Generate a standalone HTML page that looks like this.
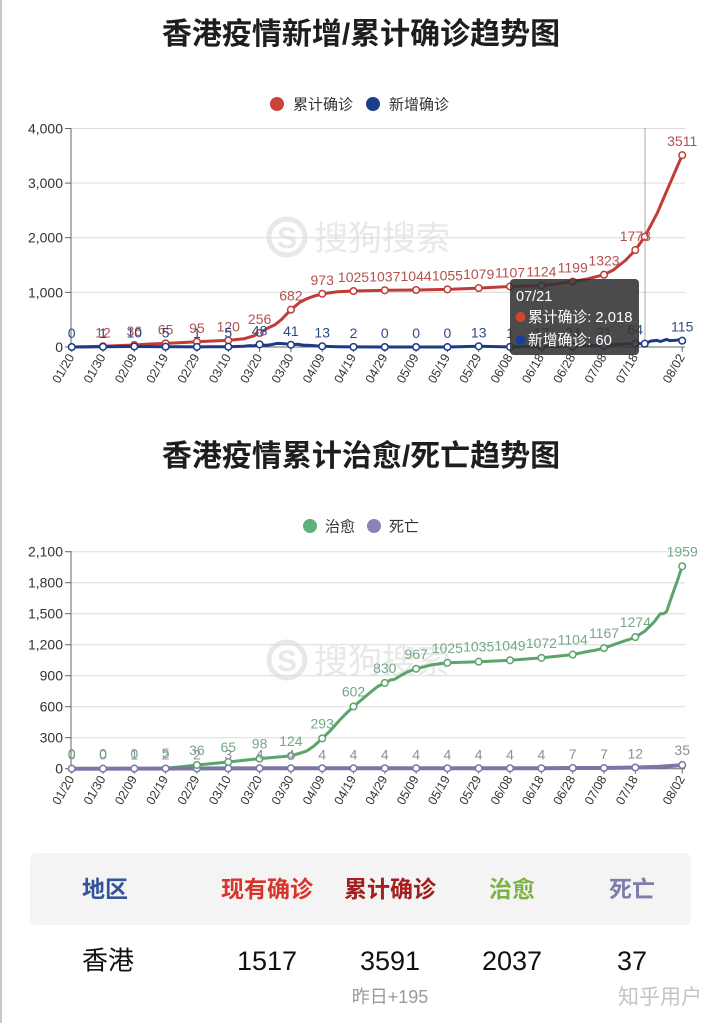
<!DOCTYPE html>
<html><head><meta charset="utf-8"><style>
html,body{margin:0;padding:0;background:#fff;}
svg{display:block;font-family:"Liberation Sans","Noto Sans CJK SC",sans-serif;}
</style></head><body>
<svg width="720" height="1023" viewBox="0 0 720 1023" xmlns="http://www.w3.org/2000/svg">
<rect x="0" y="0" width="720" height="1023" fill="#fff"/>
<rect x="0" y="0" width="2" height="1023" fill="#c8c8c8"/>

<!-- ===== Chart 1 ===== -->
<text x="361" y="44" text-anchor="middle" font-size="30" font-weight="bold" fill="#1e1e1e">香港疫情新增/累计确诊趋势图</text>
<circle cx="277" cy="104" r="7" fill="#c9433b"/>
<text x="293" y="109.5" font-size="15" fill="#333">累计确诊</text>
<circle cx="373" cy="104" r="7" fill="#1d3c8c"/>
<text x="389" y="109.5" font-size="15" fill="#333">新增确诊</text>

<g>
<circle cx="287" cy="237" r="18" fill="none" stroke="#e8e8e8" stroke-width="5"/>
<text x="287" y="248" text-anchor="middle" font-size="30" font-weight="bold" fill="#e8e8e8">S</text>
<text x="314" y="250" font-size="34" fill="#e8e8e8">搜狗搜索</text>
</g>

<g stroke="#dcdcdc" stroke-width="1">
<line x1="71" y1="128.5" x2="685" y2="128.5"/>
<line x1="71" y1="183.1" x2="685" y2="183.1"/>
<line x1="71" y1="237.7" x2="685" y2="237.7"/>
<line x1="71" y1="292.4" x2="685" y2="292.4"/>
</g>
<g stroke="#666" stroke-width="1">
<line x1="71" y1="128" x2="71" y2="347"/>
<line x1="65" y1="128.5" x2="71" y2="128.5"/>
<line x1="65" y1="183.1" x2="71" y2="183.1"/>
<line x1="65" y1="237.7" x2="71" y2="237.7"/>
<line x1="65" y1="292.4" x2="71" y2="292.4"/>
<line x1="65" y1="347" x2="71" y2="347"/>
<line x1="71" y1="347" x2="685" y2="347"/>
</g>
<g font-size="14" fill="#333" text-anchor="end">
<text x="63" y="133.5">4,000</text>
<text x="63" y="188.1">3,000</text>
<text x="63" y="242.7">2,000</text>
<text x="63" y="297.4">1,000</text>
<text x="63" y="352">0</text>
</g>
<g stroke="#666" stroke-width="1">
<line x1="71.7" y1="347" x2="71.7" y2="352"/><line x1="103" y1="347" x2="103" y2="352"/><line x1="134.3" y1="347" x2="134.3" y2="352"/><line x1="165.6" y1="347" x2="165.6" y2="352"/><line x1="196.9" y1="347" x2="196.9" y2="352"/><line x1="228.3" y1="347" x2="228.3" y2="352"/><line x1="259.6" y1="347" x2="259.6" y2="352"/><line x1="290.9" y1="347" x2="290.9" y2="352"/><line x1="322.2" y1="347" x2="322.2" y2="352"/><line x1="353.5" y1="347" x2="353.5" y2="352"/><line x1="384.8" y1="347" x2="384.8" y2="352"/><line x1="416.1" y1="347" x2="416.1" y2="352"/><line x1="447.4" y1="347" x2="447.4" y2="352"/><line x1="478.7" y1="347" x2="478.7" y2="352"/><line x1="510" y1="347" x2="510" y2="352"/><line x1="541.4" y1="347" x2="541.4" y2="352"/><line x1="572.7" y1="347" x2="572.7" y2="352"/><line x1="604" y1="347" x2="604" y2="352"/><line x1="635.3" y1="347" x2="635.3" y2="352"/><line x1="682.2" y1="347" x2="682.2" y2="352"/>
</g>
<g font-size="12.5" fill="#333" text-anchor="end">
<text transform="translate(74.7,357) rotate(-60)">01/20</text>
<text transform="translate(106,357) rotate(-60)">01/30</text>
<text transform="translate(137.3,357) rotate(-60)">02/09</text>
<text transform="translate(168.6,357) rotate(-60)">02/19</text>
<text transform="translate(199.9,357) rotate(-60)">02/29</text>
<text transform="translate(231.3,357) rotate(-60)">03/10</text>
<text transform="translate(262.6,357) rotate(-60)">03/20</text>
<text transform="translate(293.9,357) rotate(-60)">03/30</text>
<text transform="translate(325.2,357) rotate(-60)">04/09</text>
<text transform="translate(356.5,357) rotate(-60)">04/19</text>
<text transform="translate(387.8,357) rotate(-60)">04/29</text>
<text transform="translate(419.1,357) rotate(-60)">05/09</text>
<text transform="translate(450.4,357) rotate(-60)">05/19</text>
<text transform="translate(481.7,357) rotate(-60)">05/29</text>
<text transform="translate(513,357) rotate(-60)">06/08</text>
<text transform="translate(544.4,357) rotate(-60)">06/18</text>
<text transform="translate(575.7,357) rotate(-60)">06/28</text>
<text transform="translate(607,357) rotate(-60)">07/08</text>
<text transform="translate(638.3,357) rotate(-60)">07/18</text>
<text transform="translate(685.2,357) rotate(-60)">08/02</text>
</g>

<line x1="645" y1="128" x2="645" y2="347" stroke="#aaa" stroke-width="1"/>

<polyline fill="none" stroke="#c23b36" stroke-width="3" stroke-linejoin="round" stroke-linecap="round" points="71.7,347 87.4,346.7 103,346.3 118.7,345.6 134.3,345 150,344 165.6,343.4 181.3,342.6 196.9,341.8 212.6,341 228.3,340.4 243.9,338.8 253.4,336 259.6,333 269,327.5 275.2,324.6 281.5,319.5 290.9,309.7 300.3,302 306.5,298.9 312.8,296.5 322.2,293.8 337.8,291.8 353.5,291 384.8,290.3 416.1,290 447.4,289.4 478.7,288.1 510,286.5 541.4,285.6 557,283.8 572.7,281.5 588.3,278.7 604,274.7 613.4,270 619.6,265 625.9,260 635.3,250.1 644.7,236.8 657.2,213.2 669.7,184 682.2,155.2"/>
<polyline fill="none" stroke="#1c3a86" stroke-width="3" stroke-linejoin="round" stroke-linecap="round" points="71.7,347 87.4,346.9 103,346.8 118.7,346.6 134.3,346.5 150,346.6 165.6,346.7 181.3,346.8 196.9,346.9 212.6,346.7 228.3,346.7 243.9,346.3 250.2,345.6 253.4,345.9 259.6,344.4 265.9,345.4 272.1,344.5 275.2,343.8 278.4,343.4 284.6,343.7 290.9,344.8 297.2,344.3 303.4,345.1 309.7,345.4 315.9,345.9 322.2,346.3 337.8,346.7 353.5,346.9 384.8,347 416.1,347 447.4,347 478.7,346.3 510,346.9 541.4,346.5 572.7,346.4 588.3,345.6 604,345.9 610.3,345 619.6,344.3 629,343.8 635.3,343.5 644.7,343.7 651,341 657.2,340.4 660.3,341.5 666.6,339.4 669.7,340.6 676,340.2 679,339.8 682.2,340.7"/>
<g fill="#fff" stroke="#c23b36" stroke-width="1.5">
<circle cx="103" cy="346.3" r="3.3"/><circle cx="134.3" cy="345" r="3.3"/><circle cx="165.6" cy="343.4" r="3.3"/><circle cx="196.9" cy="341.8" r="3.3"/><circle cx="228.3" cy="340.4" r="3.3"/><circle cx="259.6" cy="333" r="3.3"/><circle cx="290.9" cy="309.7" r="3.3"/><circle cx="322.2" cy="293.8" r="3.3"/><circle cx="353.5" cy="291" r="3.3"/><circle cx="384.8" cy="290.3" r="3.3"/><circle cx="416.1" cy="290" r="3.3"/><circle cx="447.4" cy="289.4" r="3.3"/><circle cx="478.7" cy="288.1" r="3.3"/><circle cx="510" cy="286.5" r="3.3"/><circle cx="541.4" cy="285.6" r="3.3"/><circle cx="572.7" cy="281.5" r="3.3"/><circle cx="604" cy="274.7" r="3.3"/><circle cx="635.3" cy="250.1" r="3.3"/><circle cx="644.7" cy="236.8" r="3.3"/><circle cx="682.2" cy="155.2" r="3.3"/>
</g>
<g fill="#fff" stroke="#1c3a86" stroke-width="1.5">
<circle cx="71.7" cy="347" r="3.3"/><circle cx="103" cy="346.8" r="3.3"/><circle cx="134.3" cy="346.5" r="3.3"/><circle cx="165.6" cy="346.7" r="3.3"/><circle cx="196.9" cy="346.9" r="3.3"/><circle cx="228.3" cy="346.7" r="3.3"/><circle cx="259.6" cy="344.4" r="3.3"/><circle cx="290.9" cy="344.8" r="3.3"/><circle cx="322.2" cy="346.3" r="3.3"/><circle cx="353.5" cy="346.9" r="3.3"/><circle cx="384.8" cy="347" r="3.3"/><circle cx="416.1" cy="347" r="3.3"/><circle cx="447.4" cy="347" r="3.3"/><circle cx="478.7" cy="346.3" r="3.3"/><circle cx="510" cy="346.9" r="3.3"/><circle cx="541.4" cy="346.5" r="3.3"/><circle cx="572.7" cy="346.4" r="3.3"/><circle cx="604" cy="345.9" r="3.3"/><circle cx="635.3" cy="343.5" r="3.3"/><circle cx="644.7" cy="343.7" r="3.3"/><circle cx="682.2" cy="340.7" r="3.3"/>
</g>
<g font-size="14" fill="#b5504d" text-anchor="middle">
<text x="103" y="337.3">12</text><text x="134.3" y="336">36</text><text x="165.6" y="334.4">65</text><text x="196.9" y="332.8">95</text><text x="228.3" y="331.4">120</text><text x="259.6" y="324">256</text><text x="290.9" y="300.7">682</text><text x="322.2" y="284.8">973</text><text x="353.5" y="282">1025</text><text x="384.8" y="281.3">1037</text><text x="416.1" y="281">1044</text><text x="447.4" y="280.4">1055</text><text x="478.7" y="279.1">1079</text><text x="510" y="277.5">1107</text><text x="541.4" y="276.6">1124</text><text x="572.7" y="272.5">1199</text><text x="604" y="265.7">1323</text><text x="635.3" y="241.1">1773</text><text x="682.2" y="146.2">3511</text>
</g>
<g font-size="14" fill="#2d4a86" text-anchor="middle">
<text x="71.7" y="338">0</text><text x="103" y="337.8">1</text><text x="134.3" y="337.5">10</text><text x="165.6" y="337.7">5</text><text x="196.9" y="337.9">1</text><text x="228.3" y="337.7">5</text><text x="259.6" y="335.4">48</text><text x="290.9" y="335.8">41</text><text x="322.2" y="337.3">13</text><text x="353.5" y="337.9">2</text><text x="384.8" y="338">0</text><text x="416.1" y="338">0</text><text x="447.4" y="338">0</text><text x="478.7" y="337.3">13</text><text x="510" y="337.9">1</text><text x="541.4" y="337.5">17</text><text x="572.7" y="337.4">24</text><text x="604" y="336.9">21</text><text x="635.3" y="334.5">64</text><text x="682.2" y="331.7">115</text>
</g>

<rect x="510" y="279" width="129" height="76" rx="4" fill="rgba(50,50,50,0.88)"/>
<text x="516" y="301" font-size="14.5" fill="#fff">07/21</text>
<circle cx="520.5" cy="317" r="5" fill="#d2452f"/>
<text x="528" y="322" font-size="14.8" fill="#fff">累计确诊: 2,018</text>
<circle cx="520.5" cy="340" r="5" fill="#1b3d99"/>
<text x="528" y="345" font-size="14.8" fill="#fff">新增确诊: 60</text>

<!-- ===== Chart 2 ===== -->
<text x="361" y="466" text-anchor="middle" font-size="30" font-weight="bold" fill="#1e1e1e">香港疫情累计治愈/死亡趋势图</text>
<circle cx="310" cy="526" r="7" fill="#5db27a"/>
<text x="325" y="531.5" font-size="15" fill="#333">治愈</text>
<circle cx="374" cy="526" r="7" fill="#8984b8"/>
<text x="389" y="531.5" font-size="15" fill="#333">死亡</text>

<g>
<circle cx="287" cy="660" r="18" fill="none" stroke="#e8e8e8" stroke-width="5"/>
<text x="287" y="671" text-anchor="middle" font-size="30" font-weight="bold" fill="#e8e8e8">S</text>
<text x="314" y="673" font-size="34" fill="#e8e8e8">搜狗搜索</text>
</g>

<g stroke="#dcdcdc" stroke-width="1">
<line x1="71" y1="551.7" x2="685" y2="551.7"/>
<line x1="71" y1="582.7" x2="685" y2="582.7"/>
<line x1="71" y1="613.7" x2="685" y2="613.7"/>
<line x1="71" y1="644.7" x2="685" y2="644.7"/>
<line x1="71" y1="675.7" x2="685" y2="675.7"/>
<line x1="71" y1="706.7" x2="685" y2="706.7"/>
<line x1="71" y1="737.7" x2="685" y2="737.7"/>
</g>
<g stroke="#666" stroke-width="1">
<line x1="71" y1="551" x2="71" y2="768.7"/>
<line x1="65" y1="551.7" x2="71" y2="551.7"/>
<line x1="65" y1="582.7" x2="71" y2="582.7"/>
<line x1="65" y1="613.7" x2="71" y2="613.7"/>
<line x1="65" y1="644.7" x2="71" y2="644.7"/>
<line x1="65" y1="675.7" x2="71" y2="675.7"/>
<line x1="65" y1="706.7" x2="71" y2="706.7"/>
<line x1="65" y1="737.7" x2="71" y2="737.7"/>
<line x1="65" y1="768.7" x2="71" y2="768.7"/>
<line x1="71" y1="768.7" x2="685" y2="768.7"/>
</g>
<g font-size="14" fill="#333" text-anchor="end">
<text x="63" y="556.7">2,100</text>
<text x="63" y="587.7">1,800</text>
<text x="63" y="618.7">1,500</text>
<text x="63" y="649.7">1,200</text>
<text x="63" y="680.7">900</text>
<text x="63" y="711.7">600</text>
<text x="63" y="742.7">300</text>
<text x="63" y="773.7">0</text>
</g>
<g stroke="#666" stroke-width="1">
<line x1="71.7" y1="768.7" x2="71.7" y2="773.7"/><line x1="103" y1="768.7" x2="103" y2="773.7"/><line x1="134.3" y1="768.7" x2="134.3" y2="773.7"/><line x1="165.6" y1="768.7" x2="165.6" y2="773.7"/><line x1="196.9" y1="768.7" x2="196.9" y2="773.7"/><line x1="228.3" y1="768.7" x2="228.3" y2="773.7"/><line x1="259.6" y1="768.7" x2="259.6" y2="773.7"/><line x1="290.9" y1="768.7" x2="290.9" y2="773.7"/><line x1="322.2" y1="768.7" x2="322.2" y2="773.7"/><line x1="353.5" y1="768.7" x2="353.5" y2="773.7"/><line x1="384.8" y1="768.7" x2="384.8" y2="773.7"/><line x1="416.1" y1="768.7" x2="416.1" y2="773.7"/><line x1="447.4" y1="768.7" x2="447.4" y2="773.7"/><line x1="478.7" y1="768.7" x2="478.7" y2="773.7"/><line x1="510" y1="768.7" x2="510" y2="773.7"/><line x1="541.4" y1="768.7" x2="541.4" y2="773.7"/><line x1="572.7" y1="768.7" x2="572.7" y2="773.7"/><line x1="604" y1="768.7" x2="604" y2="773.7"/><line x1="635.3" y1="768.7" x2="635.3" y2="773.7"/><line x1="682.2" y1="768.7" x2="682.2" y2="773.7"/>
</g>
<g font-size="12.5" fill="#333" text-anchor="end">
<text transform="translate(74.7,778.7) rotate(-60)">01/20</text>
<text transform="translate(106,778.7) rotate(-60)">01/30</text>
<text transform="translate(137.3,778.7) rotate(-60)">02/09</text>
<text transform="translate(168.6,778.7) rotate(-60)">02/19</text>
<text transform="translate(199.9,778.7) rotate(-60)">02/29</text>
<text transform="translate(231.3,778.7) rotate(-60)">03/10</text>
<text transform="translate(262.6,778.7) rotate(-60)">03/20</text>
<text transform="translate(293.9,778.7) rotate(-60)">03/30</text>
<text transform="translate(325.2,778.7) rotate(-60)">04/09</text>
<text transform="translate(356.5,778.7) rotate(-60)">04/19</text>
<text transform="translate(387.8,778.7) rotate(-60)">04/29</text>
<text transform="translate(419.1,778.7) rotate(-60)">05/09</text>
<text transform="translate(450.4,778.7) rotate(-60)">05/19</text>
<text transform="translate(481.7,778.7) rotate(-60)">05/29</text>
<text transform="translate(513,778.7) rotate(-60)">06/08</text>
<text transform="translate(544.4,778.7) rotate(-60)">06/18</text>
<text transform="translate(575.7,778.7) rotate(-60)">06/28</text>
<text transform="translate(607,778.7) rotate(-60)">07/08</text>
<text transform="translate(638.3,778.7) rotate(-60)">07/18</text>
<text transform="translate(685.2,778.7) rotate(-60)">08/02</text>
</g>

<polyline fill="none" stroke="#5ba56d" stroke-width="3" stroke-linejoin="round" stroke-linecap="round" points="71.7,768.7 103,768.7 134.3,768.7 165.6,768.2 181.3,766.8 196.9,765 212.6,763.5 228.3,762 243.9,760.3 259.6,758.6 275.2,757.3 290.9,755.9 299,753.5 306.5,751.1 314,746 322.2,738.4 330,731 337.8,722.2 345.6,714 353.5,706.5 361.3,700 369.2,693.3 377,687 384.8,682.9 391,679.8 394.2,679.5 400.5,675.7 408.3,671.5 416.1,668.8 431.8,664.8 447.4,662.8 478.7,661.7 510,660.3 541.4,657.9 572.7,654.6 588.3,651.4 594.6,650.4 604,648.1 619.6,642.6 629,639.5 635.3,637.1 644.7,631.3 654.1,622 660.3,613.7 663.5,613.7 666.6,611.6 672.9,593 677.6,580 682.2,566.3"/>
<polyline fill="none" stroke="#7a76a6" stroke-width="4" stroke-linejoin="round" stroke-linecap="round" points="71.7,768.7 134.3,768.6 228.3,768.4 259.6,768.3 541.4,768.3 572.7,768 604,768 635.3,767.5 660,766.8 682.2,765.1"/>
<g fill="#fff" stroke="#7a76a6" stroke-width="1.5">
<circle cx="71.7" cy="768.7" r="3.3"/><circle cx="103" cy="768.7" r="3.3"/><circle cx="134.3" cy="768.6" r="3.3"/><circle cx="165.6" cy="768.5" r="3.3"/><circle cx="196.9" cy="768.5" r="3.3"/><circle cx="228.3" cy="768.4" r="3.3"/><circle cx="259.6" cy="768.3" r="3.3"/><circle cx="290.9" cy="768.3" r="3.3"/><circle cx="322.2" cy="768.3" r="3.3"/><circle cx="353.5" cy="768.3" r="3.3"/><circle cx="384.8" cy="768.3" r="3.3"/><circle cx="416.1" cy="768.3" r="3.3"/><circle cx="447.4" cy="768.3" r="3.3"/><circle cx="478.7" cy="768.3" r="3.3"/><circle cx="510" cy="768.3" r="3.3"/><circle cx="541.4" cy="768.3" r="3.3"/><circle cx="572.7" cy="768" r="3.3"/><circle cx="604" cy="768" r="3.3"/><circle cx="635.3" cy="767.5" r="3.3"/><circle cx="682.2" cy="765.1" r="3.3"/>
</g>
<g fill="#fff" stroke="#5ba56d" stroke-width="1.5">
<circle cx="196.9" cy="765" r="3.3"/><circle cx="228.3" cy="762" r="3.3"/><circle cx="259.6" cy="758.6" r="3.3"/><circle cx="290.9" cy="755.9" r="3.3"/><circle cx="322.2" cy="738.4" r="3.3"/><circle cx="353.5" cy="706.5" r="3.3"/><circle cx="384.8" cy="682.9" r="3.3"/><circle cx="416.1" cy="668.8" r="3.3"/><circle cx="447.4" cy="662.8" r="3.3"/><circle cx="478.7" cy="661.7" r="3.3"/><circle cx="510" cy="660.3" r="3.3"/><circle cx="541.4" cy="657.9" r="3.3"/><circle cx="572.7" cy="654.6" r="3.3"/><circle cx="604" cy="648.1" r="3.3"/><circle cx="635.3" cy="637.1" r="3.3"/><circle cx="682.2" cy="566.3" r="3.3"/>
</g>
<g font-size="14" fill="#8e8e9e" text-anchor="middle">
<text x="71.7" y="759.7">0</text><text x="103" y="759.7">0</text><text x="134.3" y="759.6">1</text><text x="165.6" y="759.5">2</text><text x="196.9" y="759.5">2</text><text x="228.3" y="759.4">3</text><text x="259.6" y="759.3">4</text><text x="290.9" y="759.3">4</text><text x="322.2" y="759.3">4</text><text x="353.5" y="759.3">4</text><text x="384.8" y="759.3">4</text><text x="416.1" y="759.3">4</text><text x="447.4" y="759.3">4</text><text x="478.7" y="759.3">4</text><text x="510" y="759.3">4</text><text x="541.4" y="759.3">4</text><text x="572.7" y="759">7</text><text x="604" y="759">7</text><text x="635.3" y="758.5">12</text><text x="682.2" y="755.1">35</text>
</g>
<g font-size="14" fill="#74a886" text-anchor="middle">
<text x="71.7" y="758.7">0</text><text x="103" y="758.7">0</text><text x="134.3" y="758.7">0</text><text x="165.6" y="758.2">5</text><text x="196.9" y="755">36</text><text x="228.3" y="752">65</text><text x="259.6" y="748.6">98</text><text x="290.9" y="745.9">124</text><text x="322.2" y="728.4">293</text><text x="353.5" y="696.5">602</text><text x="384.8" y="672.9">830</text><text x="416.1" y="658.8">967</text><text x="447.4" y="652.8">1025</text><text x="478.7" y="651.7">1035</text><text x="510" y="650.3">1049</text><text x="541.4" y="647.9">1072</text><text x="572.7" y="644.6">1104</text><text x="604" y="638.1">1167</text><text x="635.3" y="627.1">1274</text><text x="682.2" y="556.3">1959</text>
</g>

<!-- ===== Table ===== -->
<rect x="30" y="853" width="661" height="72" rx="6" fill="#f4f4f4"/>
<g font-size="23" font-weight="bold" text-anchor="middle">
<text x="105" y="897" fill="#33549a">地区</text>
<text x="267" y="897" fill="#d5352b">现有确诊</text>
<text x="390" y="897" fill="#a51e1e">累计确诊</text>
<text x="512" y="897" fill="#7cb342">治愈</text>
<text x="632" y="897" fill="#7c7eab">死亡</text>
</g>
<text x="108" y="969.5" text-anchor="middle" font-size="26" fill="#111">香港</text>
<g font-size="27" fill="#111" text-anchor="middle">
<text x="267" y="970">1517</text>
<text x="390" y="970">3591</text>
<text x="512" y="970">2037</text>
<text x="632" y="970">37</text>
</g>
<text x="390" y="1003" text-anchor="middle" font-size="18" fill="#9a9a9a">昨日+195</text>
<text x="660" y="1004" text-anchor="middle" font-size="21" fill="#c4c4c4">知乎用户</text>
</svg>
</body></html>
